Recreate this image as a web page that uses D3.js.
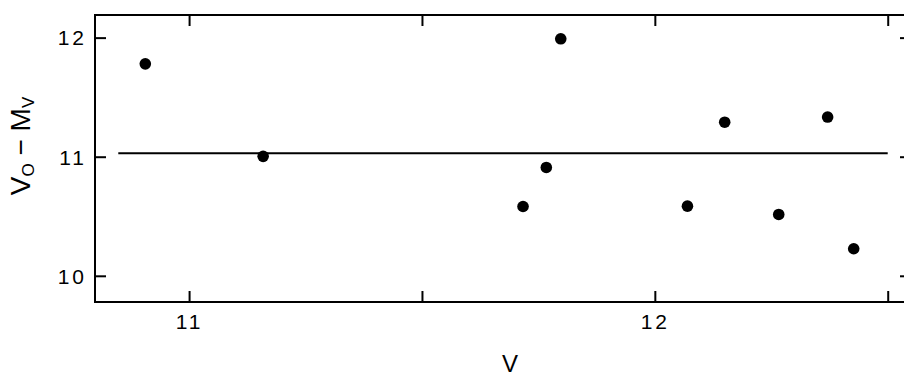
<!DOCTYPE html>
<html>
<head>
<meta charset="utf-8">
<script src="https://cdn.jsdelivr.net/npm/d3@7"></script>
<style>
  body { margin: 0; background: #fff; }
  svg { display: block; }
  text { font-family: "Liberation Sans", Arial, sans-serif; fill: #000; }
</style>
</head>
<body>
<div id="chart"></div>
<script>
// apparent magnitude V vs distance modulus V0 - Mv
const vMag = [10.906, 11.159, 11.717, 11.767, 11.798, 12.07, 12.15, 12.266, 12.371, 12.427];
const distMod = [11.78, 11.003, 10.582, 10.91, 11.99, 10.585, 11.29, 10.515, 11.333, 10.227];
const meanLine = [[10.848, 11.03], [12.5, 11.03]];
const xTicks = [11, 11.5, 12, 12.5];
const xTickLabels = ['11', '', '12', ''];
const yTicks = [10, 11, 12];

const W = 904, H = 378;
const margin = { left: 95, top: 15, right: -7, bottom: 76 };
const iw = W - margin.left - margin.right;
const ih = H - margin.top - margin.bottom;

const svg = d3.select('#chart').append('svg')
  .attr('width', W)
  .attr('height', H);

const g = svg.append('g')
  .attr('transform', `translate(${margin.left},${margin.top})`);

const x = d3.scaleLinear().domain([10.798, 12.55]).range([0, iw]);
const y = d3.scaleLinear().domain([9.78, 12.19]).range([ih, 0]);

// frame
g.append('rect')
  .attr('width', iw).attr('height', ih)
  .attr('fill', 'none').attr('stroke', '#000').attr('stroke-width', 2);

const tickLen = 11;

// bottom axis (ticks inward)
const xb = g.append('g').attr('transform', `translate(0,${ih})`)
  .call(d3.axisBottom(x).tickValues(xTicks).tickSize(-tickLen).tickPadding(12)
    .tickFormat((d, i) => xTickLabels[i]));
// top axis
const xt = g.append('g')
  .call(d3.axisTop(x).tickValues(xTicks).tickSize(-tickLen).tickFormat(''));
// left axis
const yl = g.append('g')
  .call(d3.axisLeft(y).tickValues(yTicks).tickSize(-tickLen).tickPadding(8)
    .tickFormat(d3.format('d')));
// right axis
const yr = g.append('g').attr('transform', `translate(${iw},0)`)
  .call(d3.axisRight(y).tickValues(yTicks).tickSize(-tickLen).tickFormat(''));

[xb, xt, yl, yr].forEach(a => {
  a.select('.domain').remove();
  a.selectAll('.tick line').attr('stroke', '#000').attr('stroke-width', 2);
  a.selectAll('.tick text')
    .style('font-size', '21px')
    .style('letter-spacing', '3px');
});
yl.selectAll('.tick text').attr('dy', '0.35em');

// mean line
g.append('path')
  .datum(meanLine)
  .attr('d', d3.line().x(d => x(d[0])).y(d => y(d[1])))
  .attr('stroke', '#000').attr('stroke-width', 2).attr('fill', 'none');

// points
g.selectAll('circle.pt')
  .data(vMag.map((v, i) => [v, distMod[i]]))
  .enter().append('circle')
  .attr('class', 'pt')
  .attr('cx', d => x(d[0]))
  .attr('cy', d => y(d[1]))
  .attr('r', 5.8)
  .attr('fill', '#000');

// x axis title
svg.append('text')
  .attr('x', 510).attr('y', 372)
  .attr('text-anchor', 'middle')
  .style('font-size', '24px')
  .text('V');

// y axis title
const yt = svg.append('text')
  .attr('transform', 'translate(30,146) rotate(-90)')
  .attr('text-anchor', 'middle')
  .style('font-size', '28px');
yt.append('tspan').text('V');
yt.append('tspan').attr('dy', 4).style('font-size', '17px').text('O');
yt.append('tspan').attr('dy', -4).text(' \u2212 M');
yt.append('tspan').attr('dy', 4).style('font-size', '17px').text('V');
</script>
</body>
</html>
